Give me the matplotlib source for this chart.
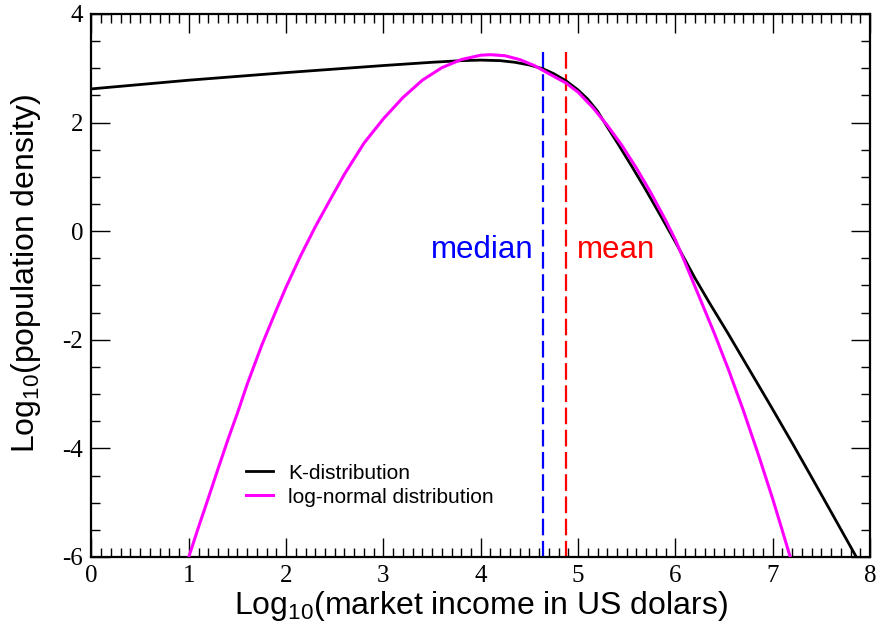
import matplotlib
matplotlib.use("Agg")
import matplotlib.pyplot as plt
from matplotlib.ticker import MultipleLocator

# ------------------------
# data (log10 income, log10 density)
# ------------------------
k_x = [0.00, 1.00, 2.00, 3.00, 3.50, 3.80, 4.00, 4.20, 4.35, 4.50, 4.64, 4.75,
       4.875, 5.00, 5.10, 5.20, 5.30, 5.42, 5.55, 5.69, 5.85, 6.00, 6.10, 6.20,
       6.35, 6.54, 6.75, 6.98, 7.20, 7.39, 7.60, 7.85]
k_y = [2.62, 2.78, 2.92, 3.05, 3.11, 3.14, 3.15, 3.14, 3.11, 3.06, 2.99, 2.90,
       2.77, 2.60, 2.43, 2.21, 1.92, 1.58, 1.20, 0.78, 0.28, -0.20, -0.53, -0.86,
       -1.32, -1.88, -2.52, -3.22, -3.90, -4.50, -5.17, -5.97]

ln_x = [1.00, 1.10, 1.20, 1.30, 1.40, 1.50, 1.60, 1.75, 1.90, 2.00, 2.15, 2.30,
        2.45, 2.60, 2.80, 3.00, 3.20, 3.40, 3.60, 3.80, 4.00, 4.10, 4.25, 4.40,
        4.55, 4.70, 4.875, 5.00, 5.15, 5.30, 5.45, 5.60, 5.75, 5.90, 6.00, 6.10,
        6.25, 6.40, 6.55, 6.70, 6.85, 7.00, 7.10, 7.18]
ln_y = [-6.00, -5.45, -4.92, -4.38, -3.85, -3.35, -2.82, -2.10, -1.45, -1.03, -0.45, 0.08,
        0.57, 1.05, 1.62, 2.07, 2.46, 2.78, 3.01, 3.16, 3.24, 3.25, 3.23, 3.16,
        3.05, 2.90, 2.73, 2.56, 2.28, 1.95, 1.58, 1.16, 0.70, 0.20, -0.16, -0.58,
        -1.23, -1.88, -2.57, -3.31, -4.10, -4.93, -5.52, -6.00]

median_x = 4.64
mean_x = 4.875

plt.rcParams['font.family'] = ['Liberation Sans', 'DejaVu Sans']
plt.rcParams['axes.unicode_minus'] = False
plt.rcParams['mathtext.fontset'] = 'custom'
plt.rcParams['mathtext.rm'] = 'Liberation Sans'
plt.rcParams['mathtext.it'] = 'Liberation Sans:italic'

fig = plt.figure(figsize=(8.82, 6.34), dpi=100)
ax = fig.add_axes([0.1037, 0.1215, 0.8827, 0.8565])

ax.plot(k_x, k_y, color='black', lw=2.0, label='K-distribution', zorder=3)
ax.plot(ln_x, ln_y, color='#ff00ff', lw=2.2, label='log-normal distribution', zorder=4)

# ---------- median / mean ----------
ax.plot([median_x, median_x], [3.3, -6], color='blue', lw=1.6, dashes=(7.5, 2.5))
ax.plot([mean_x, mean_x], [3.3, -6], color='red', lw=1.6, dashes=(7.5, 2.5))
ax.text(4.54, -0.34, 'median', color='blue', fontsize=22.5, ha='right', va='center')
ax.text(4.99, -0.34, 'mean', color='red', fontsize=22.5, ha='left', va='center')

ax.set_xlim(0, 8)
ax.set_ylim(-6, 4)
ax.xaxis.set_major_locator(MultipleLocator(1))
ax.xaxis.set_minor_locator(MultipleLocator(0.1))
ax.yaxis.set_major_locator(MultipleLocator(2))
ax.yaxis.set_minor_locator(MultipleLocator(0.5))
ax.tick_params(which='both', direction='in', top=True, right=True, width=1.0)
ax.tick_params(which='major', length=14, pad=6)
ax.tick_params(which='minor', length=6.5)
for lab in ax.get_xticklabels() + ax.get_yticklabels():
    lab.set_fontfamily('Liberation Serif')
    lab.set_fontsize(18)
for sp in ax.spines.values():
    sp.set_linewidth(1.6)

ax.set_xlabel('Log$_{10}$(market income in US dolars)', fontsize=23, labelpad=1)
ax.set_ylabel('Log$_{10}$(population density)', fontsize=23)
ax.yaxis.set_label_coords(-0.062, 0.521)

ax.legend(loc='upper left', bbox_to_anchor=(0.198, 0.172), frameon=False,
          fontsize=15, handlelength=1.3, handletextpad=0.75, labelspacing=0.25,
          borderpad=0, borderaxespad=0)

fig.savefig('out.png', dpi=100)
